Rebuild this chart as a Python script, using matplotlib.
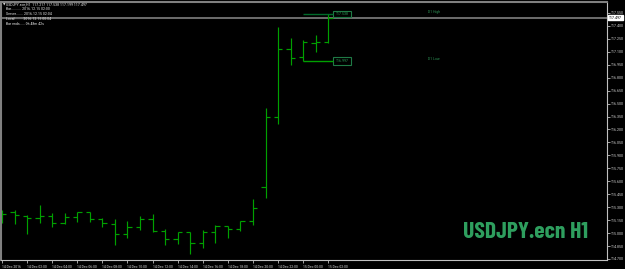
import matplotlib
matplotlib.use("Agg")
import matplotlib.pyplot as plt
from matplotlib.patches import Rectangle

# ---------------- data ----------------
bar_index = list(range(27))  # hourly bars starting 14 Dec 2016 00:00
opens  = [115.232, 115.248, 115.202, 115.172, 115.202, 115.114, 115.190, 115.241, 115.160,
          115.106, 114.986, 115.075, 115.163, 115.024, 114.928, 115.009, 114.882, 115.009,
          115.086, 115.048, 115.144, 115.538, 116.349, 117.129, 117.037, 117.206, 117.217]
highs  = [115.268, 115.268, 115.210, 115.326, 115.229, 115.229, 115.248, 115.248, 115.172,
          115.163, 115.140, 115.202, 115.221, 115.048, 115.009, 115.009, 115.036, 115.094,
          115.086, 115.144, 115.392, 116.446, 117.384, 117.257, 117.237, 117.295, 117.538]
lows   = [115.117, 115.102, 114.986, 115.114, 115.067, 115.102, 115.132, 115.132, 115.074,
          114.856, 114.940, 115.036, 115.016, 114.862, 114.874, 114.754, 114.831, 114.882,
          114.943, 115.028, 115.094, 115.403, 116.264, 116.948, 116.997, 117.095, 117.199]
closes = [115.226, 115.210, 115.172, 115.202, 115.114, 115.190, 115.241, 115.160, 115.114,
          114.986, 115.075, 115.163, 115.024, 114.928, 115.009, 114.882, 115.009, 115.086,
          115.048, 115.144, 115.287, 116.342, 117.129, 117.025, 117.217, 117.210, 117.497]

day_high = 117.538
day_low = 116.997
day_start_index = 24

x_tick_index = [0, 2, 4, 6, 8, 10, 12, 14, 16, 18, 20, 22, 24, 26]
x_tick_labels = ["14 Dec 2016", "14 Dec 02:00", "14 Dec 04:00", "14 Dec 06:00", "14 Dec 08:00",
                 "14 Dec 10:00", "14 Dec 12:00", "14 Dec 14:00", "14 Dec 16:00", "14 Dec 18:00",
                 "14 Dec 20:00", "14 Dec 22:00", "15 Dec 00:00", "15 Dec 02:00"]
y_tick_values = [114.70, 114.85, 115.00, 115.15, 115.30, 115.45, 115.60, 115.75, 115.90,
                 116.05, 116.20, 116.35, 116.50, 116.65, 116.80, 116.95, 117.10, 117.25,
                 117.40, 117.55]
y_tick_labels = ["114.700", "114.850", "115.000", "115.150", "115.300", "115.450", "115.600",
                 "115.750", "115.900", "116.050", "116.200", "116.350", "116.500", "116.650",
                 "116.800", "116.950", "117.100", "117.250", "117.400", "117.550"]
info_lines = ["USDJPY.ecn,H1  117.217 117.538 117.199 117.497",
              "Bar.......... 2016.12.15 02:00",
              "Server....... 2016.12.15 02:04",
              "Local........ 2016.12.15 00:04",
              "Bar ends..... 0h 48m 42s"]
watermark = "USDJPY.ecn H1"

SMALL = ["Roboto Condensed", "DejaVu Sans"]

# ---------------- figure ----------------
W, H = 625, 269
fig = plt.figure(figsize=(W / 100, H / 100), dpi=100, facecolor="black")
left_px, right_px, top_px, bottom_px = 1, 607, 1.5, 260
ax = fig.add_axes([left_px / W, (H - bottom_px) / H, (right_px - left_px) / W,
                   (bottom_px - top_px) / H])
ax.set_facecolor("black")

px_per_bar = 12.55
ax.set_xlim((left_px - 2) / px_per_bar, (right_px - 2) / px_per_bar)
ax.set_ylim(114.688, 117.683)

bar_color = "#00a000"
tick_len = 0.34
lw = 0.85
ax.vlines(bar_index, lows, highs, color=bar_color, lw=lw)
ax.hlines(opens, [i - tick_len for i in bar_index], bar_index, color=bar_color, lw=lw)
ax.hlines(closes, bar_index, [i + tick_len for i in bar_index], color=bar_color, lw=lw)

# bid line
ax.axhline(closes[-1], color="#808080", lw=1.2, zorder=1)

# day high / low objects
box_x0 = 26.35
box_w = 1.45
ax.hlines(day_high, day_start_index, box_x0, color="#006a2a", lw=1.0)
ax.hlines(day_low, day_start_index, box_x0, color="#00a000", lw=1.0)
ax.add_patch(Rectangle((box_x0, day_high - 0.035), box_w, 0.07, fill=False,
                       ec="#1f7a45", lw=0.8))
ax.add_patch(Rectangle((box_x0, day_low - 0.048), box_w, 0.096, fill=False,
                       ec="#1f7a45", lw=0.8))
ax.text(box_x0 + box_w / 2, day_high, f"{day_high:.3f}", color="#2a9a55", fontsize=2.9,
        ha="center", va="center", family=SMALL)
ax.text(box_x0 + box_w / 2, day_low, f"{day_low:.3f}", color="#2a9a55", fontsize=2.9,
        ha="center", va="center", family=SMALL)
ax.text(33.95, day_high + 0.02, "D1 High", color="#2a8a50", fontsize=2.9, ha="left",
        va="center", family=SMALL)
ax.text(33.95, day_low + 0.02, "D1 Low", color="#2a8a50", fontsize=2.9, ha="left",
        va="center", family=SMALL)

# axes styling
for s in ["left", "top"]:
    ax.spines[s].set_color("#808080")
    ax.spines[s].set_linewidth(1.5)
for s in ["right", "bottom"]:
    ax.spines[s].set_color("#c0c0c0")
    ax.spines[s].set_linewidth(0.8)

ax.yaxis.tick_right()
ax.set_yticks(y_tick_values)
ax.set_yticklabels(y_tick_labels, fontsize=2.9, color="#d0d0d0", family=SMALL)
ax.tick_params(axis="y", length=2, width=0.6, color="#c0c0c0", pad=1)

ax.set_xticks(x_tick_index)
ax.set_xticklabels(x_tick_labels, fontsize=2.8, color="#d0d0d0", family=SMALL, ha="left")
ax.tick_params(axis="x", length=2.5, width=0.6, color="#c0c0c0", pad=1.2)

# current price label on the axis
ax.text(1.003, closes[-1], f"{closes[-1]:.3f}", transform=ax.get_yaxis_transform(),
        fontsize=2.9, color="black", family=SMALL, ha="left", va="center",
        bbox=dict(boxstyle="square,pad=0.2", fc="white", ec="white"))

# info text
for k, line in enumerate(info_lines):
    fig.text(6 / W, 1 - (4.2 + k * 4.9) / H, line, color="#e0e0e0", fontsize=2.9,
             family=SMALL, ha="left", va="center")
fig.text(2.5 / W, 1 - 4.2 / H, "▼", color="#e0e0e0", fontsize=2.3, ha="left", va="center")

# watermark
fig.text(588 / W, 1 - 232 / H, watermark, color="#2e9e5e", fontsize=17, fontweight="bold",
         family=["Barlow Condensed", "Roboto Condensed", "DejaVu Sans"], ha="right", va="center")

fig.savefig("out.png", dpi=100, facecolor="black")
